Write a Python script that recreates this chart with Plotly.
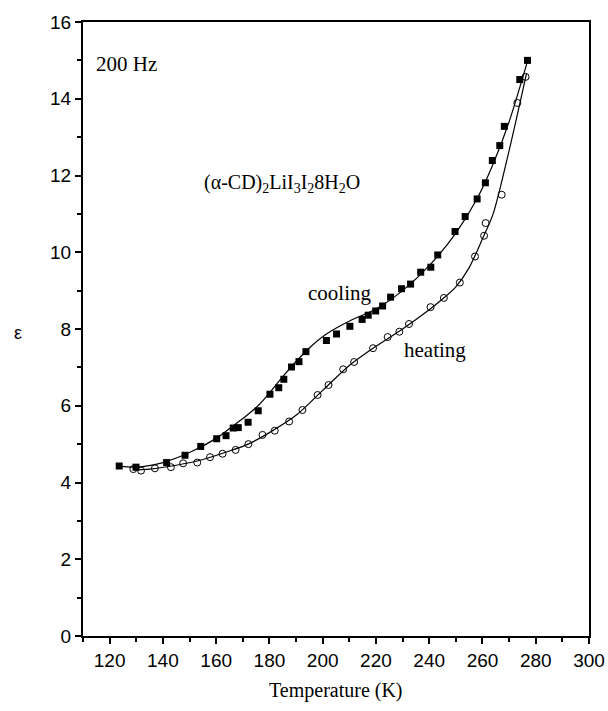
import plotly.graph_objects as go

# Measured data (Temperature K, permittivity)
cool_T = [123.6, 129.9, 141.4, 148.3, 154.2, 160.2, 163.7, 166.4, 168.3, 172.0, 175.8, 180.2,
          183.5, 185.4, 188.3, 191.1, 193.7, 201.4, 205.2, 210.2, 214.8, 217.1, 219.9, 222.5,
          225.5, 229.6, 233.0, 236.8, 240.6, 243.2, 249.7, 253.5, 258.0, 261.1, 263.7, 266.5,
          268.2, 274.0, 276.9]
cool_eps = [4.43, 4.40, 4.52, 4.71, 4.94, 5.14, 5.22, 5.42, 5.43, 5.57, 5.87, 6.30,
            6.47, 6.69, 7.01, 7.15, 7.41, 7.70, 7.87, 8.07, 8.25, 8.36, 8.47, 8.60,
            8.83, 9.05, 9.17, 9.48, 9.61, 9.93, 10.54, 10.93, 11.39, 11.81, 12.39, 12.78,
            13.28, 14.50, 15.00]

heat_T = [128.9, 131.8, 137.0, 143.0, 147.6, 152.9, 157.7, 162.4, 167.3, 172.1, 177.4, 182.0,
          187.4, 192.4, 198.1, 202.2, 207.7, 211.8, 218.9, 224.4, 228.8, 232.4, 240.5, 245.5,
          251.5, 257.2, 260.6, 261.2, 267.2, 273.1, 276.2]
heat_eps = [4.35, 4.31, 4.37, 4.40, 4.50, 4.52, 4.66, 4.75, 4.85, 5.00, 5.24, 5.35,
            5.59, 5.89, 6.28, 6.54, 6.95, 7.14, 7.50, 7.79, 7.93, 8.13, 8.57, 8.81,
            9.21, 9.89, 10.43, 10.76, 11.50, 13.89, 14.57]

# Smooth fitted curves
cool_fit_T = [124, 130, 140, 150, 160, 166, 171, 176, 180, 185, 194, 201, 211, 220, 230, 240,
              250, 258, 264, 270, 277]
cool_fit_eps = [4.42, 4.40, 4.52, 4.78, 5.15, 5.46, 5.72, 6.02, 6.33, 6.76, 7.44, 7.85, 8.24,
                8.52, 9.0, 9.65, 10.5, 11.4, 12.3, 13.4, 15.0]
heat_fit_T = [129, 135, 145, 155, 165, 172, 180, 190, 200, 210, 220, 230, 240, 245, 250, 255,
              260, 264, 270, 276.5]
heat_fit_eps = [4.33, 4.35, 4.45, 4.6, 4.82, 5.0, 5.3, 5.75, 6.4, 7.05, 7.55, 8.0, 8.5, 8.78,
                9.1, 9.6, 10.35, 11.0, 12.65, 14.65]

x_ticks = list(range(120, 301, 20))
y_ticks = list(range(0, 17, 2))

fig = go.Figure()
fig.add_trace(go.Scatter(x=cool_fit_T, y=cool_fit_eps, mode="lines", line=dict(color="black", width=1.2, shape="spline", smoothing=0.8), showlegend=False, hoverinfo="skip"))
fig.add_trace(go.Scatter(x=heat_fit_T, y=heat_fit_eps, mode="lines", line=dict(color="black", width=1.2, shape="spline", smoothing=0.8), showlegend=False, hoverinfo="skip"))
fig.add_trace(go.Scatter(x=cool_T, y=cool_eps, mode="markers", name="cooling",
                         marker=dict(symbol="square", size=7, color="black"), showlegend=False))
fig.add_trace(go.Scatter(x=heat_T, y=heat_eps, mode="markers", name="heating",
                         marker=dict(symbol="circle-open", size=7, color="black", line=dict(width=1)), showlegend=False))

serif = "Liberation Serif, Times New Roman, serif"
sans = "Liberation Sans, Arial, sans-serif"

fig.add_annotation(x=114.3, y=14.9, text="200 Hz", showarrow=False, xanchor="left",
                   font=dict(family=serif, size=21, color="black"))
fig.add_annotation(x=154.5, y=11.8, text="(α-CD)<sub>2</sub>LiI<sub>3</sub>I<sub>2</sub>8H<sub>2</sub>O",
                   showarrow=False, xanchor="left", font=dict(family=serif, size=20, color="black"))
fig.add_annotation(x=206.5, y=8.95, text="cooling", showarrow=False,
                   font=dict(family=serif, size=21, color="black"))
fig.add_annotation(x=242, y=7.45, text="heating", showarrow=False,
                   font=dict(family=serif, size=21, color="black"))
fig.add_annotation(xref="paper", yref="y", x=-0.14, y=7.9, text="ε", showarrow=False,
                   font=dict(family=sans, size=18, color="black"))
fig.add_annotation(xref="x", yref="paper", x=205, y=-0.088, yanchor="middle",
                   text="Temperature (K)", showarrow=False,
                   font=dict(family=serif, size=20, color="black"))

axis_common = dict(showline=True, linecolor="black", linewidth=2, mirror=True, showgrid=False,
                   zeroline=False, ticks="outside", ticklen=6, tickwidth=2, tickcolor="black",
                   automargin=False, tickfont=dict(family=sans, size=19, color="black"))

fig.update_xaxes(range=[110, 300], tickvals=x_ticks, ticktext=[str(v) for v in x_ticks],
                 minor=dict(dtick=10, tick0=110, ticks="outside", ticklen=4, tickwidth=2, tickcolor="black"),
                 **axis_common)
fig.update_yaxes(range=[0, 16], tickvals=y_ticks, ticktext=[str(v) for v in y_ticks],
                 minor=dict(dtick=1, tick0=0, ticks="outside", ticklen=4, tickwidth=2, tickcolor="black"),
                 **axis_common)

fig.update_layout(width=608, height=711, margin=dict(l=83, r=19, t=22, b=75),
                  plot_bgcolor="white", paper_bgcolor="white", showlegend=False)

fig.write_html("out.html")
